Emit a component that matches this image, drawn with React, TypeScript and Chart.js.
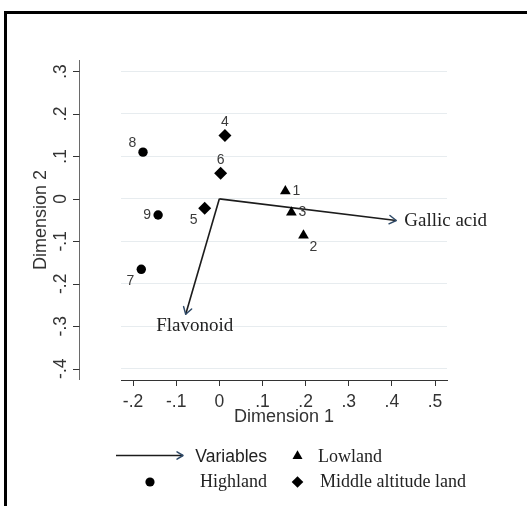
import React, { useEffect, useRef } from 'react';
import { Chart, registerables } from 'chart.js';

Chart.register(...registerables);

// ---- data ----
const LOWLAND_IDS = ['1', '2', '3'];
const LOWLAND_X = [0.153, 0.195, 0.167];
const LOWLAND_Y = [0.018, -0.086, -0.032];
const LOWLAND_LABEL_POS = [3, 4, 3];

const HIGHLAND_IDS = ['7', '8', '9'];
const HIGHLAND_X = [-0.181, -0.177, -0.142];
const HIGHLAND_Y = [-0.166, 0.110, -0.038];
const HIGHLAND_LABEL_POS = [8, 10, 9];

const MIDDLE_IDS = ['4', '5', '6'];
const MIDDLE_X = [0.013, -0.034, 0.003];
const MIDDLE_Y = [0.149, -0.022, 0.060];
const MIDDLE_LABEL_POS = [12, 8, 12];

const VAR_NAMES = ['Gallic acid', 'Flavonoid'];
const VAR_X = [0.41, -0.078];
const VAR_Y = [-0.051, -0.272];
const VAR_LABEL_POS = [3, 6];

const X_TICKS = [-0.2, -0.1, 0, 0.1, 0.2, 0.3, 0.4, 0.5];
const X_TICK_LABELS = ['-.2', '-.1', '0', '.1', '.2', '.3', '.4', '.5'];
const Y_TICKS = [-0.4, -0.3, -0.2, -0.1, 0, 0.1, 0.2, 0.3];
const Y_TICK_LABELS = ['-.4', '-.3', '-.2', '-.1', '0', '.1', '.2', '.3'];

const X_TITLE = 'Dimension 1';
const Y_TITLE = 'Dimension 2';
const LEGEND_LABELS = ['Variables', 'Lowland', 'Highland', 'Middle altitude land'];

const SANS = '"Liberation Sans", Arial, Helvetica, sans-serif';
const SERIF = '"Liberation Serif", "Times New Roman", Times, serif';
const ARROW_HEAD_COLOR = '#2f4a68';
const LINE_COLOR = '#1c1c1c';

const LABEL_OFFSETS: Record<number, [number, number]> = {
  12: [0, -13],
  3: [11, 0],
  4: [10, 12],
  8: [-11, 11.5],
  9: [-11, 0],
  10: [-10.5, -8.5],
};

function toPoints(xs: number[], ys: number[]) {
  return xs.map((x, i) => ({ x, y: ys[i] }));
}

function arrowHead(ctx: CanvasRenderingContext2D, x: number, y: number, angle: number, len: number) {
  ctx.save();
  ctx.strokeStyle = ARROW_HEAD_COLOR;
  ctx.lineWidth = 1.5;
  ctx.lineCap = 'round';
  ctx.lineJoin = 'round';
  ctx.beginPath();
  ctx.moveTo(x - len * Math.cos(angle - 0.55), y - len * Math.sin(angle - 0.55));
  ctx.lineTo(x, y);
  ctx.lineTo(x - len * Math.cos(angle + 0.55), y - len * Math.sin(angle + 0.55));
  ctx.stroke();
  ctx.restore();
}

function drawMarker(ctx: CanvasRenderingContext2D, style: string, x: number, y: number, r: number) {
  ctx.save();
  ctx.fillStyle = '#000';
  ctx.beginPath();
  if (style === 'circle') {
    ctx.arc(x, y, r, 0, Math.PI * 2);
  } else if (style === 'triangle') {
    ctx.moveTo(x, y - r);
    ctx.lineTo(x + r * 0.866, y + r / 2);
    ctx.lineTo(x - r * 0.866, y + r / 2);
    ctx.closePath();
  } else {
    ctx.moveTo(x, y - r);
    ctx.lineTo(x + r, y);
    ctx.lineTo(x, y + r);
    ctx.lineTo(x - r, y);
    ctx.closePath();
  }
  ctx.fill();
  ctx.restore();
}

const decorPlugin = {
  id: 'decor',
  afterDatasetsDraw(chart: any) {
    const ctx: CanvasRenderingContext2D = chart.ctx;
    const yScale = chart.scales.y;
    const area = chart.chartArea;

    // separated y axis (Stata style)
    ctx.save();
    ctx.strokeStyle = '#6a6a6a';
    ctx.lineWidth = 1;
    ctx.beginPath();
    ctx.moveTo(79.5, area.top);
    ctx.lineTo(79.5, area.bottom);
    ctx.stroke();
    ctx.strokeStyle = '#333';
    Y_TICKS.forEach((v) => {
      const py = Math.round(yScale.getPixelForValue(v)) + 0.5;
      ctx.beginPath();
      ctx.moveTo(73, py);
      ctx.lineTo(79.5, py);
      ctx.stroke();
    });
    ctx.restore();

    // marker labels
    ctx.save();
    ctx.font = `14px ${SANS}`;
    ctx.fillStyle = '#3a3a3a';
    ctx.textAlign = 'center';
    ctx.textBaseline = 'middle';
    chart.data.datasets.forEach((ds: any, di: number) => {
      if (!ds.ids) return;
      const meta = chart.getDatasetMeta(di);
      meta.data.forEach((el: any, j: number) => {
        const off = LABEL_OFFSETS[ds.labelPos[j]] || [0, -12];
        ctx.fillText(ds.ids[j], el.x + off[0], el.y + off[1]);
      });
    });
    ctx.restore();

    // variable arrows heads + labels
    chart.data.datasets.forEach((ds: any, di: number) => {
      if (ds.varName === undefined) return;
      const meta = chart.getDatasetMeta(di);
      const p0 = meta.data[0];
      const p1 = meta.data[1];
      const ang = Math.atan2(p1.y - p0.y, p1.x - p0.x);
      arrowHead(ctx, p1.x, p1.y, ang, 8);
      ctx.save();
      ctx.font = `19px ${SERIF}`;
      ctx.fillStyle = '#222';
      ctx.textBaseline = 'alphabetic';
      if (ds.varPos === 3) {
        ctx.textAlign = 'left';
        ctx.fillText(ds.varName, p1.x + 8, p1.y + 6);
      } else {
        ctx.textAlign = 'center';
        ctx.fillText(ds.varName, p1.x + 9, p1.y + 17);
      }
      ctx.restore();
    });
  },
  afterDraw(chart: any) {
    const ctx: CanvasRenderingContext2D = chart.ctx;
    ctx.save();
    // frame
    ctx.fillStyle = '#000';
    ctx.fillRect(4, 11, 3, 506);
    ctx.fillRect(4, 11, 530, 3);

    // legend
    ctx.strokeStyle = LINE_COLOR;
    ctx.lineWidth = 1.6;
    ctx.beginPath();
    ctx.moveTo(116, 455.5);
    ctx.lineTo(183, 455.5);
    ctx.stroke();
    arrowHead(ctx, 183, 455.5, 0, 7);

    ctx.fillStyle = '#222';
    ctx.textBaseline = 'alphabetic';
    ctx.textAlign = 'right';
    ctx.font = `17.5px ${SANS}`;
    ctx.fillText(LEGEND_LABELS[0], 267, 462);
    ctx.font = `18px ${SERIF}`;
    ctx.fillText(LEGEND_LABELS[2], 267, 487);
    ctx.textAlign = 'left';
    ctx.fillText(LEGEND_LABELS[1], 318, 462);
    ctx.fillText(LEGEND_LABELS[3], 320, 487);

    drawMarker(ctx, 'triangle', 297.5, 456, 5.8);
    drawMarker(ctx, 'circle', 150, 482, 4.6);
    drawMarker(ctx, 'diamond', 297.5, 482, 5.8);
    ctx.restore();
  },
};

export default function App() {
  const ref = useRef<HTMLCanvasElement | null>(null);

  useEffect(() => {
    if (!ref.current) return;
    Chart.defaults.font.family = SANS;
    const chart = new Chart(ref.current, {
      type: 'scatter',
      data: {
        datasets: [
          {
            label: 'Lowland',
            data: toPoints(LOWLAND_X, LOWLAND_Y),
            ids: LOWLAND_IDS,
            labelPos: LOWLAND_LABEL_POS,
            pointStyle: 'triangle',
            pointRadius: 6.2,
            pointBackgroundColor: '#000',
            pointBorderWidth: 0,
          } as any,
          {
            label: 'Highland',
            data: toPoints(HIGHLAND_X, HIGHLAND_Y),
            ids: HIGHLAND_IDS,
            labelPos: HIGHLAND_LABEL_POS,
            pointStyle: 'circle',
            pointRadius: 4.7,
            pointBackgroundColor: '#000',
            pointBorderWidth: 0,
          } as any,
          {
            label: 'Middle altitude land',
            data: toPoints(MIDDLE_X, MIDDLE_Y),
            ids: MIDDLE_IDS,
            labelPos: MIDDLE_LABEL_POS,
            pointStyle: 'rectRot',
            pointRadius: 6.5,
            pointBackgroundColor: '#000',
            pointBorderWidth: 0,
          } as any,
          ...VAR_NAMES.map((name, k) => ({
            label: name,
            varName: name,
            varPos: VAR_LABEL_POS[k],
            data: [{ x: 0, y: 0 }, { x: VAR_X[k], y: VAR_Y[k] }],
            showLine: true,
            borderColor: LINE_COLOR,
            borderWidth: 1.6,
            pointRadius: 0,
            fill: false,
          } as any)),
        ],
      },
      options: {
        animation: false,
        responsive: false,
        events: [],
        layout: { padding: { top: 53, right: 80, left: 0, bottom: 0 } },
        plugins: {
          legend: { display: false },
          tooltip: { enabled: false },
        },
        scales: {
          x: {
            type: 'linear',
            min: -0.228,
            max: 0.5277,
            afterFit: (s: any) => { s.height = 126; },
            afterBuildTicks: (s: any) => { s.ticks = X_TICKS.map((v) => ({ value: v })); },
            ticks: {
              callback: (_v: any, i: number) => X_TICK_LABELS[i],
              font: { size: 17.5 },
              color: '#333',
              padding: 6,
              maxRotation: 0,
              autoSkip: false,
            },
            grid: { drawOnChartArea: false, drawTicks: true, tickLength: 6, tickColor: '#333', tickWidth: 1 },
            border: { display: true, color: '#333', width: 1 },
            title: {
              display: true,
              text: X_TITLE,
              font: { size: 18 },
              color: '#333',
              padding: { top: 0, bottom: 78.5 },
            },
          },
          y: {
            type: 'linear',
            min: -0.4267,
            max: 0.327,
            afterFit: (s: any) => { s.width = 121; },
            afterBuildTicks: (s: any) => { s.ticks = Y_TICKS.map((v) => ({ value: v })); },
            ticks: {
              callback: (_v: any, i: number) => Y_TICK_LABELS[i],
              font: { size: 17.5 },
              color: '#333',
              padding: 49.5,
              minRotation: 90,
              maxRotation: 90,
              crossAlign: 'center',
              autoSkip: false,
            },
            grid: { drawOnChartArea: true, drawTicks: false, color: '#e7ecef', lineWidth: 1 },
            border: { display: false },
            title: {
              display: true,
              text: Y_TITLE,
              font: { size: 18 },
              color: '#333',
              padding: { top: 30.5, bottom: 0 },
            },
          },
        },
      } as any,
      plugins: [decorPlugin],
    });
    return () => chart.destroy();
  }, []);

  return (
    <div style={{ position: 'absolute', left: 0, top: 0, width: 527, height: 506, background: '#fff' }}>
      <canvas ref={ref} width={527} height={506} style={{ display: 'block', width: 527, height: 506 }} />
    </div>
  );
}
